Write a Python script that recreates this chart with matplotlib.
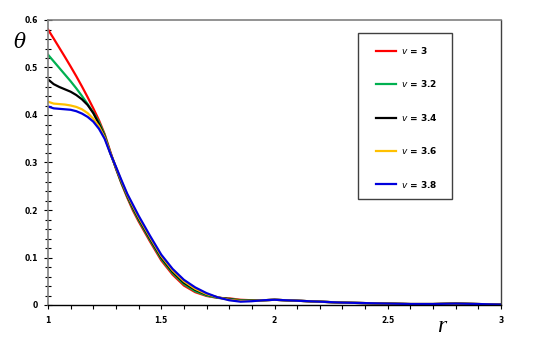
import matplotlib
matplotlib.use("Agg")
import matplotlib.pyplot as plt
from matplotlib.ticker import MultipleLocator
from matplotlib.patches import Rectangle

# radial coordinate
r = [1.0, 1.025, 1.05, 1.075, 1.1, 1.125, 1.15, 1.175, 1.2, 1.225, 1.25,
     1.275, 1.3, 1.325, 1.35, 1.375, 1.4, 1.45, 1.5, 1.55, 1.6, 1.65, 1.7,
     1.75, 1.8, 1.85, 1.9, 1.95, 2.0, 2.05, 2.1, 2.2, 2.3, 2.4, 2.5, 2.6,
     2.7, 2.8, 2.9, 3.0]

# theta for each value of v
theta_30 = [0.580, 0.561, 0.5415, 0.522, 0.502, 0.4815, 0.460, 0.4375, 0.414, 0.389, 0.360,
            0.323, 0.287, 0.255, 0.226, 0.199, 0.176, 0.134, 0.094, 0.064, 0.041, 0.027, 0.019,
            0.015, 0.014, 0.011, 0.010, 0.010, 0.011, 0.010, 0.009, 0.007, 0.005, 0.004, 0.003, 0.002,
            0.002, 0.003, 0.002, 0.001]
theta_32 = [0.527, 0.513, 0.499, 0.485, 0.471, 0.456, 0.440, 0.423, 0.405, 0.385, 0.358,
            0.321, 0.288, 0.256, 0.228, 0.202, 0.179, 0.137, 0.097, 0.067, 0.044, 0.029, 0.020,
            0.015, 0.013, 0.010, 0.0095, 0.010, 0.011, 0.010, 0.009, 0.007, 0.005, 0.004, 0.003, 0.002,
            0.002, 0.003, 0.002, 0.001]
theta_34 = [0.475, 0.465, 0.459, 0.454, 0.449, 0.442, 0.433, 0.421, 0.404, 0.381, 0.355,
            0.320, 0.289, 0.258, 0.230, 0.205, 0.182, 0.140, 0.100, 0.070, 0.047, 0.032, 0.022,
            0.016, 0.012, 0.009, 0.009, 0.010, 0.011, 0.010, 0.009, 0.007, 0.005, 0.004, 0.003, 0.002,
            0.002, 0.003, 0.002, 0.001]
theta_36 = [0.428, 0.424, 0.423, 0.422, 0.420, 0.417, 0.412, 0.404, 0.392, 0.376, 0.353,
            0.320, 0.290, 0.260, 0.232, 0.208, 0.185, 0.143, 0.103, 0.073, 0.050, 0.034, 0.023,
            0.016, 0.011, 0.0085, 0.0085, 0.010, 0.011, 0.010, 0.009, 0.007, 0.005, 0.004, 0.003, 0.002,
            0.002, 0.003, 0.002, 0.001]
theta_38 = [0.418, 0.414, 0.413, 0.412, 0.411, 0.408, 0.403, 0.396, 0.386, 0.371, 0.350,
            0.319, 0.291, 0.262, 0.234, 0.211, 0.188, 0.146, 0.106, 0.076, 0.053, 0.037, 0.025,
            0.016, 0.010, 0.007, 0.008, 0.010, 0.011, 0.010, 0.009, 0.007, 0.005, 0.004, 0.003, 0.002,
            0.002, 0.003, 0.002, 0.001]

labels = ["$v$ = 3", "$v$ = 3.2", "$v$ = 3.4", "$v$ = 3.6", "$v$ = 3.8"]
colours = ["#ff0000", "#00b050", "#000000", "#ffc000", "#0000dd"]

fig = plt.figure(figsize=(5.5, 3.46), dpi=100)
ax = fig.add_axes([48 / 550, 1 - 305 / 346, 453 / 550, 285 / 346])

for y, lab, c in zip([theta_30, theta_32, theta_34, theta_36, theta_38], labels, colours):
    ax.plot(r, y, color=c, lw=1.6, label=lab)

ax.set_xlim(1, 3)
ax.set_ylim(0, 0.6)
ax.xaxis.set_major_locator(MultipleLocator(0.5))
ax.xaxis.set_minor_locator(MultipleLocator(0.1))
ax.yaxis.set_major_locator(MultipleLocator(0.1))
ax.yaxis.set_minor_locator(MultipleLocator(0.02))
ax.xaxis.set_major_formatter(matplotlib.ticker.FuncFormatter(lambda v, p: f"{v:g}"))
ax.yaxis.set_major_formatter(matplotlib.ticker.FuncFormatter(lambda v, p: f"{v:g}"))

ax.tick_params(axis="y", which="major", direction="inout", length=6, width=0.8, pad=4,
               labelsize=5.5, color="black")
ax.tick_params(axis="y", which="minor", direction="inout", length=5, width=0.8, color="black")
ax.tick_params(axis="x", which="both", direction="out", length=3, width=0.8, pad=5,
               labelsize=5.5, color="black")
for lab in ax.get_xticklabels() + ax.get_yticklabels():
    lab.set_fontweight("bold")

for side in ["top", "left"]:
    ax.spines[side].set_color("#808080")
    ax.spines[side].set_linewidth(1.2)
ax.spines["right"].set_color("#404040")
ax.spines["right"].set_linewidth(1.0)
ax.spines["bottom"].set_color("black")
ax.spines["bottom"].set_linewidth(1.0)

fig.text(20 / 550, 1 - 43 / 346, "θ", fontsize=14.5, family="DejaVu Serif", style="italic",
         ha="center", va="center")
fig.text(442 / 550, 1 - 326 / 346, "r", fontsize=17, family="Liberation Serif", style="italic",
         ha="center", va="center")

# legend frame drawn separately so the padding can differ left/top
ax.add_patch(Rectangle(((358 - 48) / 453, (305 - 199) / 285), 94 / 453, 166 / 285,
                       transform=ax.transAxes, fill=True, facecolor="white",
                       edgecolor="#404040", lw=1.0, zorder=3))
leg = ax.legend(loc="upper left", bbox_to_anchor=((376 - 48) / 453, (305 - 45) / 285),
                prop={"size": 6.5, "weight": "bold"}, frameon=False,
                borderpad=0, labelspacing=2.48, handlelength=2.2, handletextpad=0.55,
                borderaxespad=0)
leg.set_zorder(4)

fig.savefig("out.png", dpi=100)
